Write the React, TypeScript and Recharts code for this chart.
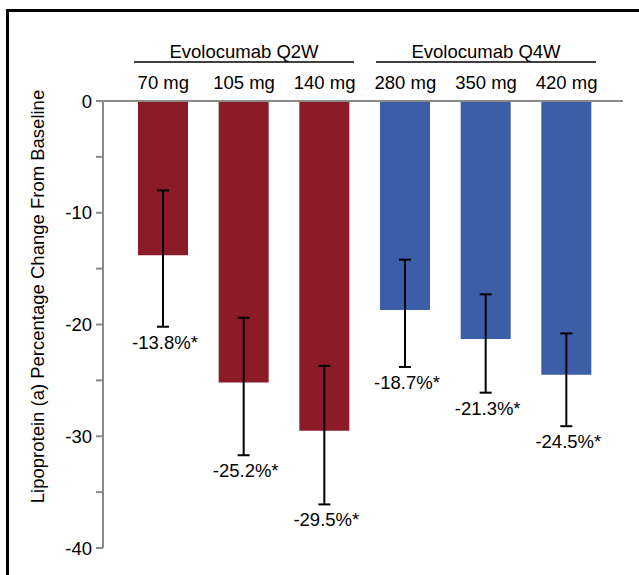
import { BarChart, Bar, XAxis, YAxis, ErrorBar, Cell } from "recharts";

const doses = ["70 mg", "105 mg", "140 mg", "280 mg", "350 mg", "420 mg"];
const regimen = [0, 0, 0, 1, 1, 1];
const groupNames = ["Evolocumab Q2W", "Evolocumab Q4W"];
const meanChange = [-13.8, -25.2, -29.5, -18.7, -21.3, -24.5];
const ciUpper = [-8.0, -19.4, -23.7, -14.2, -17.3, -20.8];
const ciLower = [-20.2, -31.7, -36.1, -23.8, -26.1, -29.1];
const yTicks = [0, -5, -10, -15, -20, -25, -30, -35, -40];

const colors = ["#8B1C27", "#3C5DA8"];
const font = "'Liberation Sans', Arial, sans-serif";
const fs = 18.5;
const axisGrey = "#8a8a8a";

const data = doses.map((dose, i) => ({
  dose,
  change: meanChange[i],
  err: [meanChange[i] - ciLower[i], ciUpper[i] - meanChange[i]],
}));

function DoseTick(props: any) {
  const { x, y, payload } = props;
  const i = payload.index;
  const half = payload.offset || 40;
  const g = regimen[i];
  const isMid = regimen[i - 1] === g && regimen[i + 1] === g;
  return (
    <g>
      <text x={x} y={y - 12} textAnchor="middle" fontSize={fs} fontFamily={font} fill="#000">
        {payload.value}
      </text>
      {isMid && (
        <>
          <text x={x} y={y - 43} textAnchor="middle" fontSize={fs} fontFamily={font} fill="#000">
            {groupNames[g]}
          </text>
          <line
            x1={x - 3 * half + 11}
            x2={x + 3 * half - 11}
            y1={y - 39}
            y2={y - 39}
            stroke="#000"
            strokeWidth={1.5}
          />
        </>
      )}
    </g>
  );
}

function PctLabel(props: any) {
  const { x, y, width, height, index } = props;
  const v = meanChange[index];
  const top = Math.min(y, y + height);
  const ppu = Math.abs(height) / Math.abs(v);
  const errBottom = top + Math.abs(ciLower[index]) * ppu;
  return (
    <text
      x={x + width / 2 + 2}
      y={errBottom + 22}
      textAnchor="middle"
      fontSize={fs}
      fontFamily={font}
      fill="#000"
    >
      {`${v.toFixed(1)}%*`}
    </text>
  );
}

function YTitle(props: any) {
  const { viewBox } = props;
  const cx = viewBox.x + 37;
  const cy = viewBox.y + viewBox.height / 2 - 28;
  return (
    <text
      x={cx}
      y={cy}
      transform={`rotate(-90 ${cx} ${cy})`}
      textAnchor="middle"
      dominantBaseline="central"
      fontSize={fs}
      fontFamily={font}
      fill="#000"
    >
      Lipoprotein (a) Percentage Change From Baseline
    </text>
  );
}

export default function App() {
  return (
    <div style={{ position: "absolute", left: 0, top: 0, width: 639, height: 575, background: "#fff" }}>
      <div
        style={{
          position: "absolute",
          left: 6,
          top: 9,
          width: 633,
          height: 566,
          borderTop: "3px solid #000",
          borderLeft: "3px solid #000",
          boxSizing: "border-box",
        }}
      />
      <div style={{ position: "absolute", left: 0, top: 0 }}>
        <BarChart
          width={639}
          height={575}
          data={data}
          margin={{ top: 0, right: 16, bottom: 27, left: 0 }}
          barSize={50}
        >
          <XAxis
            dataKey="dose"
            orientation="top"
            height={101}
            tickSize={0}
            tickMargin={0}
            tickLine={false}
            axisLine={{ stroke: axisGrey, strokeWidth: 2 }}
            padding={{ left: 20, right: 16 }}
            tick={<DoseTick />}
            interval={0}
          />
          <YAxis
            width={103}
            domain={[-40, 0]}
            ticks={yTicks}
            interval={0}
            tickSize={7}
            tickMargin={4}
            axisLine={{ stroke: axisGrey, strokeWidth: 2 }}
            tickLine={{ stroke: axisGrey, strokeWidth: 2 }}
            tick={{ fill: "#000", fontSize: fs, fontFamily: font }}
            tickFormatter={(v: number) => (v % 10 === 0 ? String(v) : "")}
            label={<YTitle />}
          />
          <Bar dataKey="change" isAnimationActive={false} label={<PctLabel />}>
            {data.map((d, i) => (
              <Cell key={d.dose} fill={colors[regimen[i]]} />
            ))}
            <ErrorBar dataKey="err" direction="y" width={6} stroke="#000" strokeWidth={2} />
          </Bar>
        </BarChart>
      </div>
    </div>
  );
}
